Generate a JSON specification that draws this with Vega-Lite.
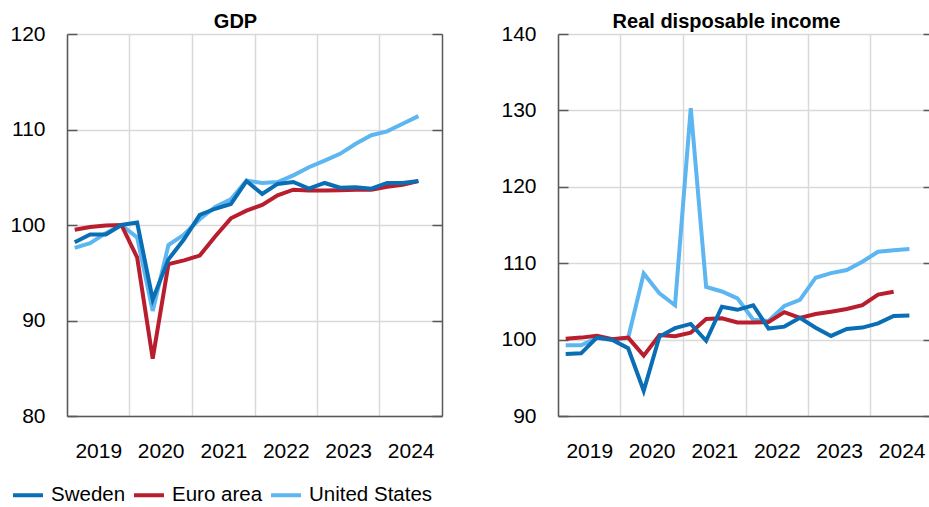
{
  "$schema": "https://vega.github.io/schema/vega-lite/v6.json",
  "padding": {"left": 9, "top": 11, "right": 0, "bottom": 0},
  "spacing": 57,
  "config": {
    "view": {"stroke": null},
    "font": "Liberation Sans",
    "axis": {"labelFont": "Liberation Sans", "labelFontSize": 21, "labelColor": "#000000", "gridColor": "#d9d9d9", "gridWidth": 1.5, "domainColor": "#595959", "domainWidth": 1.5, "tickColor": "#595959", "tickWidth": 1.5},
    "title": {"font": "Liberation Sans", "fontSize": 20, "fontWeight": "bold", "color": "#000000", "offset": -8.5, "dx": -19, "frame": "group", "anchor": "middle"},
    "legend": {"orient": "none", "legendX": -56, "legendY": 444, "direction": "horizontal", "symbolType": "stroke", "symbolSize": 900, "symbolStrokeWidth": 4, "labelFont": "Liberation Sans", "labelFontSize": 20.5, "labelColor": "#000000", "labelOffset": 6, "columnPadding": 0, "title": null},
    "line": {"strokeWidth": 4}
  },
  "datasets": {
    "gdp": [
      {"date": "2019-02-15", "country": "United States", "value": 97.6},
      {"date": "2019-05-16", "country": "United States", "value": 98.1},
      {"date": "2019-08-16", "country": "United States", "value": 99.15},
      {"date": "2019-11-15", "country": "United States", "value": 100.0},
      {"date": "2020-02-15", "country": "United States", "value": 98.7},
      {"date": "2020-05-16", "country": "United States", "value": 91.0},
      {"date": "2020-08-16", "country": "United States", "value": 97.9},
      {"date": "2020-11-15", "country": "United States", "value": 99.0},
      {"date": "2021-02-15", "country": "United States", "value": 100.6},
      {"date": "2021-05-16", "country": "United States", "value": 101.9},
      {"date": "2021-08-16", "country": "United States", "value": 102.7},
      {"date": "2021-11-15", "country": "United States", "value": 104.65},
      {"date": "2022-02-15", "country": "United States", "value": 104.4},
      {"date": "2022-05-16", "country": "United States", "value": 104.5},
      {"date": "2022-08-16", "country": "United States", "value": 105.2},
      {"date": "2022-11-15", "country": "United States", "value": 106.05},
      {"date": "2023-02-15", "country": "United States", "value": 106.75},
      {"date": "2023-05-16", "country": "United States", "value": 107.45},
      {"date": "2023-08-16", "country": "United States", "value": 108.5},
      {"date": "2023-11-15", "country": "United States", "value": 109.4},
      {"date": "2024-02-15", "country": "United States", "value": 109.8},
      {"date": "2024-05-16", "country": "United States", "value": 110.6},
      {"date": "2024-08-16", "country": "United States", "value": 111.4},
      {"date": "2019-02-15", "country": "Euro area", "value": 99.5},
      {"date": "2019-05-16", "country": "Euro area", "value": 99.8},
      {"date": "2019-08-16", "country": "Euro area", "value": 99.95},
      {"date": "2019-11-15", "country": "Euro area", "value": 100.0},
      {"date": "2020-02-15", "country": "Euro area", "value": 96.6},
      {"date": "2020-05-16", "country": "Euro area", "value": 86.0},
      {"date": "2020-08-16", "country": "Euro area", "value": 95.9},
      {"date": "2020-11-15", "country": "Euro area", "value": 96.3},
      {"date": "2021-02-15", "country": "Euro area", "value": 96.8},
      {"date": "2021-05-16", "country": "Euro area", "value": 98.8},
      {"date": "2021-08-16", "country": "Euro area", "value": 100.7},
      {"date": "2021-11-15", "country": "Euro area", "value": 101.5},
      {"date": "2022-02-15", "country": "Euro area", "value": 102.1},
      {"date": "2022-05-16", "country": "Euro area", "value": 103.1},
      {"date": "2022-08-16", "country": "Euro area", "value": 103.7},
      {"date": "2022-11-15", "country": "Euro area", "value": 103.6},
      {"date": "2023-02-15", "country": "Euro area", "value": 103.6},
      {"date": "2023-05-16", "country": "Euro area", "value": 103.65},
      {"date": "2023-08-16", "country": "Euro area", "value": 103.7},
      {"date": "2023-11-15", "country": "Euro area", "value": 103.7},
      {"date": "2024-02-15", "country": "Euro area", "value": 104.0},
      {"date": "2024-05-16", "country": "Euro area", "value": 104.2},
      {"date": "2024-08-16", "country": "Euro area", "value": 104.6},
      {"date": "2019-02-15", "country": "Sweden", "value": 98.2},
      {"date": "2019-05-16", "country": "Sweden", "value": 99.0},
      {"date": "2019-08-16", "country": "Sweden", "value": 99.0},
      {"date": "2019-11-15", "country": "Sweden", "value": 100.0},
      {"date": "2020-02-15", "country": "Sweden", "value": 100.25},
      {"date": "2020-05-16", "country": "Sweden", "value": 92.2},
      {"date": "2020-08-16", "country": "Sweden", "value": 96.4},
      {"date": "2020-11-15", "country": "Sweden", "value": 98.5},
      {"date": "2021-02-15", "country": "Sweden", "value": 101.05},
      {"date": "2021-05-16", "country": "Sweden", "value": 101.7},
      {"date": "2021-08-16", "country": "Sweden", "value": 102.2},
      {"date": "2021-11-15", "country": "Sweden", "value": 104.6},
      {"date": "2022-02-15", "country": "Sweden", "value": 103.25},
      {"date": "2022-05-16", "country": "Sweden", "value": 104.3},
      {"date": "2022-08-16", "country": "Sweden", "value": 104.5},
      {"date": "2022-11-15", "country": "Sweden", "value": 103.8},
      {"date": "2023-02-15", "country": "Sweden", "value": 104.4},
      {"date": "2023-05-16", "country": "Sweden", "value": 103.9},
      {"date": "2023-08-16", "country": "Sweden", "value": 103.95},
      {"date": "2023-11-15", "country": "Sweden", "value": 103.8},
      {"date": "2024-02-15", "country": "Sweden", "value": 104.4},
      {"date": "2024-05-16", "country": "Sweden", "value": 104.4},
      {"date": "2024-08-16", "country": "Sweden", "value": 104.6}
    ],
    "rdi": [
      {"date": "2019-02-15", "country": "United States", "value": 99.26},
      {"date": "2019-05-16", "country": "United States", "value": 99.26},
      {"date": "2019-08-16", "country": "United States", "value": 100.2},
      {"date": "2019-11-15", "country": "United States", "value": 100.05},
      {"date": "2020-02-15", "country": "United States", "value": 100.2},
      {"date": "2020-05-16", "country": "United States", "value": 108.65},
      {"date": "2020-08-16", "country": "United States", "value": 106.05},
      {"date": "2020-11-15", "country": "United States", "value": 104.5},
      {"date": "2021-02-15", "country": "United States", "value": 130.3},
      {"date": "2021-05-16", "country": "United States", "value": 106.9},
      {"date": "2021-08-16", "country": "United States", "value": 106.3},
      {"date": "2021-11-15", "country": "United States", "value": 105.4},
      {"date": "2022-02-15", "country": "United States", "value": 102.6},
      {"date": "2022-05-16", "country": "United States", "value": 102.45},
      {"date": "2022-08-16", "country": "United States", "value": 104.4},
      {"date": "2022-11-15", "country": "United States", "value": 105.2},
      {"date": "2023-02-15", "country": "United States", "value": 108.1},
      {"date": "2023-05-16", "country": "United States", "value": 108.7},
      {"date": "2023-08-16", "country": "United States", "value": 109.1},
      {"date": "2023-11-15", "country": "United States", "value": 110.2},
      {"date": "2024-02-15", "country": "United States", "value": 111.5},
      {"date": "2024-05-16", "country": "United States", "value": 111.7},
      {"date": "2024-08-16", "country": "United States", "value": 111.87},
      {"date": "2019-02-15", "country": "Euro area", "value": 100.1},
      {"date": "2019-05-16", "country": "Euro area", "value": 100.26},
      {"date": "2019-08-16", "country": "Euro area", "value": 100.5},
      {"date": "2019-11-15", "country": "Euro area", "value": 100.05},
      {"date": "2020-02-15", "country": "Euro area", "value": 100.26},
      {"date": "2020-05-16", "country": "Euro area", "value": 97.9},
      {"date": "2020-08-16", "country": "Euro area", "value": 100.6},
      {"date": "2020-11-15", "country": "Euro area", "value": 100.43},
      {"date": "2021-02-15", "country": "Euro area", "value": 100.9},
      {"date": "2021-05-16", "country": "Euro area", "value": 102.7},
      {"date": "2021-08-16", "country": "Euro area", "value": 102.8},
      {"date": "2021-11-15", "country": "Euro area", "value": 102.25},
      {"date": "2022-02-15", "country": "Euro area", "value": 102.25},
      {"date": "2022-05-16", "country": "Euro area", "value": 102.3},
      {"date": "2022-08-16", "country": "Euro area", "value": 103.6},
      {"date": "2022-11-15", "country": "Euro area", "value": 102.85},
      {"date": "2023-02-15", "country": "Euro area", "value": 103.35},
      {"date": "2023-05-16", "country": "Euro area", "value": 103.65},
      {"date": "2023-08-16", "country": "Euro area", "value": 104.0},
      {"date": "2023-11-15", "country": "Euro area", "value": 104.5},
      {"date": "2024-02-15", "country": "Euro area", "value": 105.9},
      {"date": "2024-05-16", "country": "Euro area", "value": 106.26},
      {"date": "2019-02-15", "country": "Sweden", "value": 98.1},
      {"date": "2019-05-16", "country": "Sweden", "value": 98.2},
      {"date": "2019-08-16", "country": "Sweden", "value": 100.26},
      {"date": "2019-11-15", "country": "Sweden", "value": 99.96},
      {"date": "2020-02-15", "country": "Sweden", "value": 98.87},
      {"date": "2020-05-16", "country": "Sweden", "value": 93.3},
      {"date": "2020-08-16", "country": "Sweden", "value": 100.4},
      {"date": "2020-11-15", "country": "Sweden", "value": 101.5},
      {"date": "2021-02-15", "country": "Sweden", "value": 102.05},
      {"date": "2021-05-16", "country": "Sweden", "value": 99.85},
      {"date": "2021-08-16", "country": "Sweden", "value": 104.3},
      {"date": "2021-11-15", "country": "Sweden", "value": 103.9},
      {"date": "2022-02-15", "country": "Sweden", "value": 104.5},
      {"date": "2022-05-16", "country": "Sweden", "value": 101.45},
      {"date": "2022-08-16", "country": "Sweden", "value": 101.7},
      {"date": "2022-11-15", "country": "Sweden", "value": 102.85},
      {"date": "2023-02-15", "country": "Sweden", "value": 101.55},
      {"date": "2023-05-16", "country": "Sweden", "value": 100.48},
      {"date": "2023-08-16", "country": "Sweden", "value": 101.4},
      {"date": "2023-11-15", "country": "Sweden", "value": 101.57},
      {"date": "2024-02-15", "country": "Sweden", "value": 102.13},
      {"date": "2024-05-16", "country": "Sweden", "value": 103.1},
      {"date": "2024-08-16", "country": "Sweden", "value": 103.17}
    ]
  },
  "hconcat": [
    {
      "title": "GDP",
      "width": 375,
      "height": 382,
      "data": {"name": "gdp"},
      "encoding": {
        "x": {"field": "date", "type": "temporal",
          "scale": {"type": "utc", "domain": [{"year": 2019, "utc": true}, {"year": 2025, "utc": true}]},
          "axis": {"title": null, "values": [{"year": 2019, "utc": true}, {"year": 2020, "utc": true}, {"year": 2021, "utc": true}, {"year": 2022, "utc": true}, {"year": 2023, "utc": true}, {"year": 2024, "utc": true}],
            "labelExpr": "utcFormat(datum.value, '%Y')", "labelOffset": 31.25, "ticks": false, "grid": true, "labelPadding": 24, "labelFlush": false, "labelOverlap": false, "labelBound": false}}
      },
      "layer": [
        {
          "mark": {"type": "line"},
          "encoding": {
            "y": {"field": "value", "type": "quantitative", "scale": {"domain": [80, 120], "nice": false, "zero": false},
              "axis": {"orient": "left", "title": null, "values": [80, 90, 100, 110, 120], "tickSize": -10, "labelPadding": 32, "grid": true}},
            "color": {"field": "country", "type": "nominal", "scale": {"domain": ["Sweden", "Euro area", "United States"], "range": ["#0a6eb4", "#b81e2d", "#5db6f0"]}}
          }
        },
        {
          "mark": {"type": "point", "opacity": 0},
          "encoding": {
            "y": {"field": "value", "type": "quantitative",
              "axis": {"orient": "right", "title": null, "values": [80, 90, 100, 110, 120], "tickSize": -10, "labels": false, "grid": false}}
          }
        }
      ],
      "resolve": {"axis": {"y": "independent"}}
    },
    {
      "title": "Real disposable income",
      "width": 375,
      "height": 382,
      "data": {"name": "rdi"},
      "encoding": {
        "x": {"field": "date", "type": "temporal",
          "scale": {"type": "utc", "domain": [{"year": 2019, "utc": true}, {"year": 2025, "utc": true}]},
          "axis": {"title": null, "values": [{"year": 2019, "utc": true}, {"year": 2020, "utc": true}, {"year": 2021, "utc": true}, {"year": 2022, "utc": true}, {"year": 2023, "utc": true}, {"year": 2024, "utc": true}],
            "labelExpr": "utcFormat(datum.value, '%Y')", "labelOffset": 31.25, "ticks": false, "grid": true, "labelPadding": 24, "labelFlush": false, "labelOverlap": false, "labelBound": false}}
      },
      "layer": [
        {
          "mark": {"type": "line"},
          "encoding": {
            "y": {"field": "value", "type": "quantitative", "scale": {"domain": [90, 140], "nice": false, "zero": false},
              "axis": {"orient": "left", "title": null, "values": [90, 100, 110, 120, 130, 140], "tickSize": -10, "labelPadding": 32, "grid": true}},
            "color": {"field": "country", "type": "nominal", "scale": {"domain": ["Sweden", "Euro area", "United States"], "range": ["#0a6eb4", "#b81e2d", "#5db6f0"]}}
          }
        },
        {
          "mark": {"type": "point", "opacity": 0},
          "encoding": {
            "y": {"field": "value", "type": "quantitative",
              "axis": {"orient": "right", "title": null, "values": [90, 100, 110, 120, 130, 140], "tickSize": -10, "labels": false, "grid": false}}
          }
        }
      ],
      "resolve": {"axis": {"y": "independent"}}
    }
  ]
}
